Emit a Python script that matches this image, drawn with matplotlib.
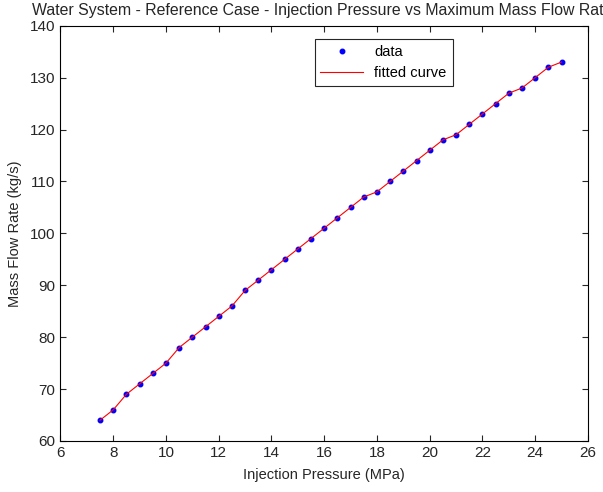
import numpy as np
import matplotlib
matplotlib.use("Agg")
import matplotlib.pyplot as plt

# injection pressure (MPa) and max mass flow rate (kg/s)
pressure = [7.5, 8, 8.5, 9, 9.5, 10, 10.5, 11, 11.5, 12, 12.5, 13, 13.5, 14,
            14.5, 15, 15.5, 16, 16.5, 17, 17.5, 18, 18.5, 19, 19.5, 20, 20.5,
            21, 21.5, 22, 22.5, 23, 23.5, 24, 24.5, 25]
flow = [64, 66, 69, 71, 73, 75, 78, 80, 82, 84, 86, 89, 91, 93, 95, 97, 99,
        101, 103, 105, 107, 108, 110, 112, 114, 116, 118, 119, 121, 123, 125,
        127, 128, 130, 132, 133]
xticks = list(range(6, 27, 2))
yticks = list(range(60, 141, 10))

plt.rcParams['font.family'] = ['Liberation Sans', 'DejaVu Sans']

fig = plt.figure(figsize=(6.03, 4.92), dpi=100)
ax = fig.add_axes([0.1003, 0.1037, 0.8748, 0.8441])

ax.plot(pressure, flow, '.', color='#0000ff', markersize=6.5, label='data')
ax.plot(pressure, flow, '-', color='#ff0000', linewidth=0.8, label='fitted curve')

ax.set_xlim(6, 26)
ax.set_ylim(60, 140)
ax.set_xticks(xticks)
ax.set_yticks(yticks)
ax.tick_params(direction='in', top=True, right=True, length=4, width=0.8,
               labelsize=11, colors='#262626')
for s in ax.spines.values():
    s.set_linewidth(0.8)

ax.set_xlabel('Injection Pressure (MPa)', fontsize=10.5, color='#262626', labelpad=6)
ax.set_ylabel('Mass Flow Rate (kg/s)', fontsize=10.5, color='#262626', labelpad=6)
# title is cut at the right edge in the original, keep the visible part
fig.text(32 / 603, 1 - 11 / 492,
         'Water System - Reference Case - Injection Pressure vs Maximum Mass Flow Rat',
         fontsize=11.4, color='#262626', ha='left', va='center')

leg = ax.legend(loc='upper left', bbox_to_anchor=(0.468, 0.985), fontsize=10.5,
                fancybox=False, edgecolor='#262626', framealpha=1,
                handlelength=2.9, borderpad=0.4, labelspacing=0.5)
leg.get_frame().set_linewidth(0.8)

fig.savefig('out.png', dpi=100)
